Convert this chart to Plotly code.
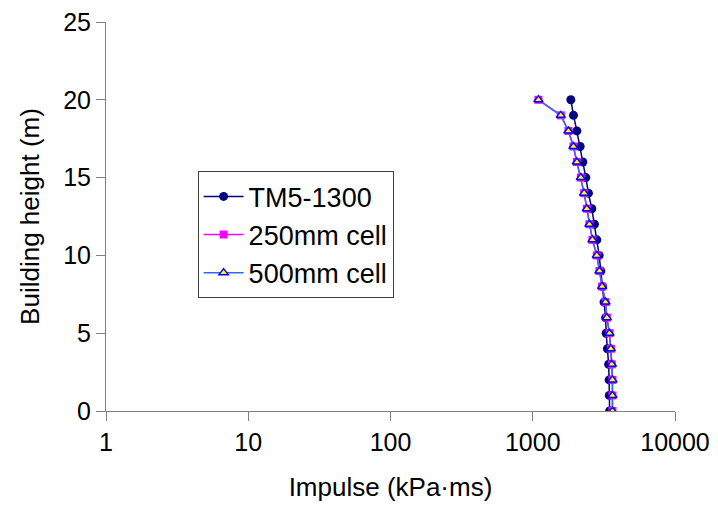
import plotly.graph_objects as go

heights = list(range(20, -1, -1))
tm5_1300 = [1853, 1933, 2042, 2153, 2249, 2361, 2462, 2602, 2714, 2821, 2930,
            3010, 3090, 3170, 3253, 3281, 3350, 3416, 3443, 3452, 3470]
cell_250 = [1096, 1575, 1782, 1932, 2042, 2178, 2298, 2400, 2502, 2628, 2821,
            2943, 3075, 3246, 3318, 3461, 3539, 3596, 3632, 3632, 3632]
cell_500 = [1096, 1575, 1782, 1932, 2042, 2178, 2298, 2400, 2502, 2628, 2821,
            2943, 3075, 3246, 3318, 3461, 3539, 3596, 3632, 3632, 3632]

x_ticks = [1, 10, 100, 1000, 10000]
y_ticks = [0, 5, 10, 15, 20, 25]

FONT = "Liberation Sans, Arial, sans-serif"

fig = go.Figure()
fig.add_trace(go.Scatter(
    x=tm5_1300, y=heights, name="TM5-1300", mode="lines+markers",
    line=dict(color="#000080", width=1.5),
    marker=dict(symbol="circle", size=9, color="#000080"),
    legendgroup="a"))
fig.add_trace(go.Scatter(
    x=cell_250, y=heights, name="250mm cell", mode="lines+markers",
    line=dict(color="#FF00FF", width=1.5),
    marker=dict(symbol="square", size=8, color="#FF00FF"),
    legendgroup="b"))
fig.add_trace(go.Scatter(
    x=cell_500, y=heights, name="500mm cell", mode="lines+markers",
    line=dict(color="#3366FF", width=1.5),
    marker=dict(symbol="triangle-up", size=8, color="#FFFF00",
                line=dict(color="#0000FF", width=1.5)),
    legendgroup="c"))

fig.update_layout(
    width=718, height=520,
    margin=dict(l=106, r=43, t=22, b=109, autoexpand=False),
    paper_bgcolor="white", plot_bgcolor="white",
    font=dict(family=FONT, size=25, color="black"),
    showlegend=True,
    legend=dict(
        x=0.161, y=0.616, xanchor="left", yanchor="top",
        bgcolor="white", bordercolor="#404040", borderwidth=1,
        font=dict(family=FONT, size=27, color="black"),
        tracegroupgap=0, itemwidth=40,
    ),
    xaxis=dict(
        type="log", range=[0, 4], automargin=False,
        tickvals=x_ticks, ticktext=[str(v) for v in x_ticks],
        ticks="outside", ticklen=9, tickcolor="#808080", tickwidth=1,
        showline=True, linecolor="#808080", linewidth=1,
        showgrid=False, zeroline=False,
        title=dict(text="Impulse (kPa·ms)", font=dict(size=26), standoff=22),
        tickfont=dict(size=25),
    ),
    yaxis=dict(
        range=[0, 25], tickvals=y_ticks, automargin=False,
        ticks="outside", ticklen=9, tickcolor="#808080", tickwidth=1,
        showline=True, linecolor="#808080", linewidth=1,
        showgrid=False, zeroline=False,
        title=dict(text="Building height (m)", font=dict(size=26), standoff=16),
        tickfont=dict(size=25),
    ),
)

fig.write_html("out.html")
